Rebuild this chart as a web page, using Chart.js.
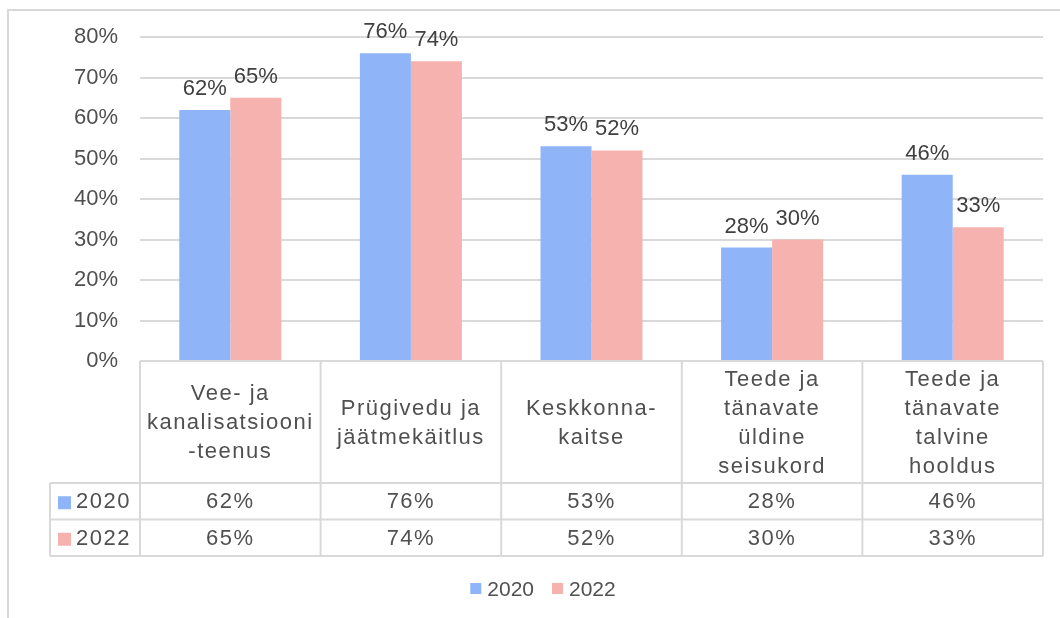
<!DOCTYPE html>
<html>
<head>
<meta charset="utf-8">
<script src="https://cdn.jsdelivr.net/npm/chart.js@4.4.1/dist/chart.umd.min.js"></script>
<style>
  html, body { margin: 0; padding: 0; background: #ffffff; }
  #frame { position: absolute; left: 7px; top: 9px; width: 1060px; height: 620px;
           border-left: 2px solid #d9d9d9; border-top: 2px solid #d9d9d9; }
  #wrap { position: absolute; left: 0; top: 0; width: 1060px; height: 618px; }
</style>
</head>
<body>
<div id="frame"></div>
<div id="wrap"><canvas id="c" width="1060" height="618"></canvas></div>
<script>
// ---- data ----
const categories = [
  ["Vee- ja", "kanalisatsiooni", "-teenus"],
  ["Prügivedu ja", "jäätmekäitlus"],
  ["Keskkonna-", "kaitse"],
  ["Teede ja", "tänavate", "üldine", "seisukord"],
  ["Teede ja", "tänavate", "talvine", "hooldus"]
];
const seriesNames = ["2020", "2022"];
const values2020 = [62, 76, 53, 28, 46];
const values2022 = [65, 74, 52, 30, 33];
const yTicks = [0, 10, 20, 30, 40, 50, 60, 70, 80];

// ---- style ----
const FONT = '"Liberation Sans", Arial, sans-serif';
const FS = 22;
const TEXT = '#505050';
const LINE = '#d9d9d9';
const BLUE = '#8fb5f8';
const PINK = '#f6b2ae';
const TABLE_LEFT = 50;
const HEADER_H = 122;
const ROW_H = 36.5;
const LEGEND_CX = 543;
const LEGEND_CY = 589;

const labelPlugin = {
  id: 'barLabels',
  afterDatasetsDraw(chart) {
    const ctx = chart.ctx;
    ctx.save();
    ctx.font = FS + 'px ' + FONT;
    ctx.fillStyle = '#404040';
    ctx.textAlign = 'center';
    ctx.textBaseline = 'alphabetic';
    chart.data.datasets.forEach((ds, di) => {
      const meta = chart.getDatasetMeta(di);
      meta.data.forEach((el, i) => {
        ctx.fillText(ds.data[i] + '%', el.x, el.y - 15);
      });
    });
    ctx.restore();
  }
};

const tablePlugin = {
  id: 'dataTable',
  afterDraw(chart) {
    const ctx = chart.ctx;
    const xs = chart.scales.x;
    const n = chart.data.labels.length;
    const cw = (xs.right - xs.left) / n;
    const top = chart.chartArea.bottom;
    const r1 = top + HEADER_H;
    const r2 = r1 + ROW_H;
    const r3 = r2 + ROW_H;
    ctx.save();
    ctx.strokeStyle = LINE;
    ctx.lineWidth = 2;
    ctx.beginPath();
    ctx.moveTo(xs.left, top); ctx.lineTo(xs.right, top);
    [r1, r2, r3].forEach(y => { ctx.moveTo(TABLE_LEFT, y); ctx.lineTo(xs.right, y); });
    for (let i = 0; i <= n; i++) {
      const x = xs.getPixelForValue(0) - cw / 2 + i * cw;
      ctx.moveTo(x, top); ctx.lineTo(x, r3);
    }
    ctx.moveTo(TABLE_LEFT, r1); ctx.lineTo(TABLE_LEFT, r3);
    ctx.stroke();

    ctx.font = FS + 'px ' + FONT;
    ctx.fillStyle = TEXT;
    ctx.textAlign = 'center';
    ctx.textBaseline = 'middle';
    try { ctx.letterSpacing = '1.5px'; } catch (e) {}
    const lh = 29;
    chart.data.labels.forEach((lines, i) => {
      const cx = xs.getPixelForValue(i);
      const cy = top + HEADER_H / 2 + 1;
      lines.forEach((t, k) => {
        ctx.fillText(t, cx, cy + (k - (lines.length - 1) / 2) * lh);
      });
    });
    chart.data.datasets.forEach((ds, di) => {
      const cy = r1 + ROW_H * di + ROW_H / 2 + 1;
      ds.data.forEach((v, i) => {
        ctx.fillText(v + '%', xs.getPixelForValue(i), cy);
      });
      ctx.fillStyle = ds.backgroundColor;
      ctx.fillRect(TABLE_LEFT + 8, cy - 6, 13, 13);
      ctx.fillStyle = TEXT;
      ctx.textAlign = 'left';
      ctx.fillText(ds.label, TABLE_LEFT + 26, cy);
      ctx.textAlign = 'center';
    });

    // legend
    try { ctx.letterSpacing = '0px'; } catch (e) {}
    ctx.font = '21px ' + FONT;
    ctx.textAlign = 'left';
    const box = 11, gapBox = 6, gapItem = 18;
    const widths = chart.data.datasets.map(ds => box + gapBox + ctx.measureText(ds.label).width);
    const total = widths.reduce((a, b) => a + b, 0) + gapItem * (widths.length - 1);
    let x = LEGEND_CX - total / 2;
    chart.data.datasets.forEach((ds, di) => {
      ctx.fillStyle = ds.backgroundColor;
      ctx.fillRect(x, LEGEND_CY - 6, box, box);
      ctx.fillStyle = TEXT;
      ctx.fillText(ds.label, x + box + gapBox, LEGEND_CY + 1);
      x += widths[di] + gapItem;
    });
    ctx.restore();
  }
};

new Chart(document.getElementById('c'), {
  type: 'bar',
  data: {
    labels: categories,
    datasets: [
      { label: seriesNames[0], data: values2020, backgroundColor: BLUE, borderWidth: 0,
        barPercentage: 1, categoryPercentage: 0.565 },
      { label: seriesNames[1], data: values2022, backgroundColor: PINK, borderWidth: 0,
        barPercentage: 1, categoryPercentage: 0.565 }
    ]
  },
  options: {
    responsive: false,
    animation: false,
    devicePixelRatio: 1,
    layout: { padding: { top: 37, right: 17, bottom: 62, left: 0 } },
    plugins: {
      legend: { display: false },
      tooltip: { enabled: false }
    },
    scales: {
      x: {
        grid: { display: false },
        border: { display: false },
        ticks: { display: false },
        afterFit(scale) { scale.height = 195; }
      },
      y: {
        min: 0, max: 80,
        afterBuildTicks(scale) { scale.ticks = yTicks.map(v => ({ value: v })); },
        ticks: { padding: 22, color: TEXT, font: { family: FONT, size: FS },
                 callback: v => v + '%' },
        grid: { color: LINE, lineWidth: 2, drawTicks: false },
        border: { display: false },
        afterFit(scale) { scale.width = 140; }
      }
    }
  },
  plugins: [labelPlugin, tablePlugin]
});
</script>
</body>
</html>
